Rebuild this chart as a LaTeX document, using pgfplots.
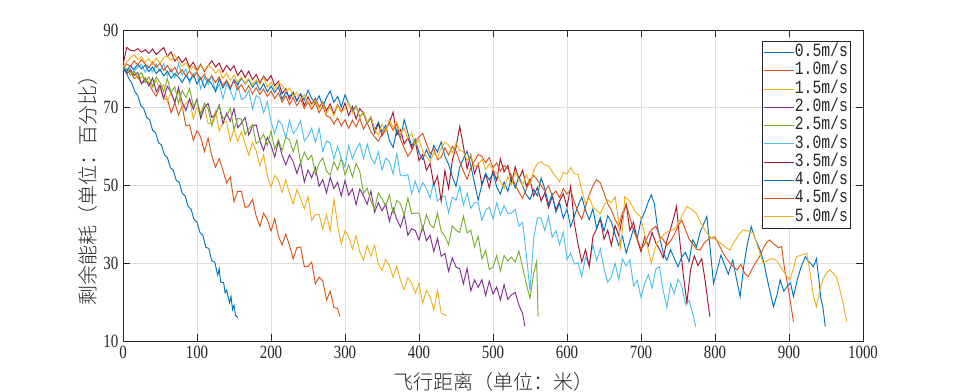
\documentclass[border=0pt]{standalone}
\usepackage{fontspec}
\usepackage{pgfplots}
\pgfplotsset{compat=1.18}
\setmainfont{Liberation Serif}
\newfontfamily\cjk[UprightFont={* Light}]{Noto Sans CJK SC}
\newfontfamily\tickfont[FakeStretch=0.8]{Liberation Serif}
\newfontfamily\legfont[FakeStretch=0.79]{Liberation Mono}
\definecolor{mblue}{RGB}{0,114,189}
\definecolor{morange}{RGB}{217,83,25}
\definecolor{myellow}{RGB}{237,177,32}
\definecolor{mpurple}{RGB}{126,47,142}
\definecolor{mgreen}{RGB}{119,172,48}
\definecolor{mlblue}{RGB}{77,190,238}
\definecolor{mred}{RGB}{162,20,47}
\definecolor{gridgray}{RGB}{222,222,222}
\definecolor{axgray}{RGB}{38,38,38}
\begin{document}
\begin{tikzpicture}
\begin{axis}[
  scale only axis, width=555pt, height=233.25pt,
  xmin=0, xmax=1000, ymin=10, ymax=90,
  xtick={0,100,...,1000}, ytick={10,30,50,70,90},
  grid=major, major grid style={gridgray, line width=0.6pt},
  axis line style={axgray, line width=0.6pt},
  tick style={axgray, line width=0.6pt}, major tick length=5pt,
  tick align=inside, xtick pos=both, ytick pos=both,
  /pgf/number format/assume math mode=true,
  /pgf/number format/1000 sep={},
  tick label style={font=\tickfont\fontsize{14}{14}\selectfont, text=axgray},
  xlabel={\cjk 飞行距离（单位：米）},
  ylabel={\cjk 剩余能耗（单位：百分比）},
  xlabel style={font=\fontsize{15}{15}\selectfont, text=axgray, at={(axis description cs:0.5,-0.132)}, anchor=center},
  ylabel style={font=\fontsize{15}{15}\selectfont, text=axgray, at={(axis description cs:-0.047,0.5)}, anchor=center, rotate=0},
  legend style={at={(1,1)}, anchor=north east, xshift=-9pt, yshift=-8.25pt,
    draw=axgray, line width=0.6pt, inner sep=1.5pt, row sep=0pt,
    font=\legfont\fontsize{14}{14}\selectfont,
    nodes={inner sep=0.5pt, text height=9.5pt, text depth=3.2pt, text=axgray}},
  legend cell align=left,
  legend image code/.code={\draw[#1, line width=0.7pt] (0pt,0pt) -- (22pt,0pt);},
  every axis plot/.append style={line width=0.7pt},
]
% 0.5 m/s
\addplot[mblue] table {
x y
0 81.0
4 79.2
8 77.5
12 76.3
16 74.2
20 73.1
24 70.6
28 69.8
32 67.5
36 66.9
40 64.2
44 63.6
48 61.0
52 60.4
56 57.9
60 57.2
64 54.6
68 53.9
72 51.3
76 50.8
80 48.0
84 47.3
88 44.6
92 43.9
96 41.2
100 40.6
104 37.9
108 37.2
112 34.1
116 33.8
120 30.6
124 30.3
128 26.9
130 28.6
132 25.2
136 25.0
138 22.4
140 23.1
144 19.8
146 21.4
148 18.1
150 19.2
152 16.6
155 16.0
};
\addlegendentry{0.5m/s}
% 1.0 m/s
\addplot[morange] table {
x y
0 80.0
5 79.0
10 79.4
15 77.5
20 78.0
25 76.2
30 76.9
35 76.6
40 74.3
45 73.0
50 75.2
55 72.2
60 72.3
65 68.7
70 71.3
75 68.1
80 70.3
85 65.3
90 65.6
95 61.6
100 64.1
105 62.5
110 58.7
115 62.2
120 57.6
125 54.7
130 56.9
135 53.9
140 50.7
145 52.2
150 45.8
155 48.5
160 48.5
165 44.3
170 44.7
175 46.4
180 42.1
185 39.5
190 42.9
195 41.3
200 38.3
205 41.5
210 37.0
215 34.7
220 37.5
225 34.6
230 31.1
235 34.0
240 34.2
245 29.1
250 29.2
255 30.3
260 24.7
265 26.4
270 25.5
275 20.5
280 22.8
285 18.6
290 18.4
293 16.3
};
\addlegendentry{1.0m/s}
% 1.5 m/s
\addplot[myellow] table {
x y
0 80.5
5 79.9
10 78.6
15 79.1
20 77.4
25 77.8
30 77.9
35 76.0
40 75.3
45 77.0
50 74.6
55 76.0
60 71.6
65 73.9
70 71.5
75 74.4
80 69.6
85 71.1
90 72.1
95 67.1
100 70.2
105 68.0
110 70.3
115 65.9
120 66.1
125 69.2
130 64.0
135 66.1
140 66.5
145 61.4
150 64.4
155 61.3
160 63.9
165 60.8
170 57.8
175 61.1
180 58.9
185 55.0
190 57.9
195 52.6
200 49.6
205 52.6
210 51.4
215 48.2
220 51.5
225 47.9
230 45.3
235 48.9
240 46.7
245 44.0
250 47.2
255 41.0
260 42.5
265 42.5
270 38.8
275 42.5
280 38.3
285 46.5
290 39.9
295 34.9
300 38.4
305 36.8
310 33.6
315 37.1
320 32.9
325 30.8
330 34.5
335 31.8
340 34.6
345 29.9
350 28.1
355 31.0
360 29.3
365 26.4
370 29.3
375 25.6
380 23.2
385 26.3
390 24.9
395 22.3
400 24.8
405 19.7
410 23.1
415 21.4
420 18.0
425 23.0
430 17.2
437 16.5
};
\addlegendentry{1.5m/s}
% 2.0 m/s
\addplot[mpurple] table {
x y
0 80.4
5 78.8
10 79.9
15 78.3
20 79.1
25 76.2
30 77.6
35 75.6
40 77.7
45 74.1
50 75.8
55 72.5
60 75.5
65 73.9
70 71.3
75 75.2
80 71.4
85 69.3
90 72.3
95 69.6
100 72.2
105 67.2
110 70.1
115 71.1
120 67.5
125 68.2
130 70.7
135 65.9
140 68.6
145 66.5
150 69.8
155 64.9
160 66.0
165 67.5
170 63.0
175 65.3
180 65.6
185 61.5
190 59.0
195 62.4
200 60.3
205 57.3
210 61.4
215 57.8
220 55.3
225 57.9
230 56.1
235 53.1
240 56.0
245 50.9
250 54.0
255 52.0
260 54.7
265 49.8
270 51.5
275 48.1
280 52.1
285 49.2
290 50.8
295 47.3
300 51.3
305 47.5
310 49.1
315 45.1
320 49.1
325 47.3
330 45.2
335 48.6
340 43.1
345 45.6
350 43.5
355 45.2
360 40.8
365 44.2
370 41.3
375 39.3
380 42.4
385 37.2
390 38.9
395 38.4
400 36.0
405 39.5
410 35.8
415 37.2
420 33.0
425 36.4
430 31.8
435 32.5
440 27.9
445 31.4
450 29.0
455 28.6
460 24.7
465 28.7
470 22.9
475 25.7
480 23.8
485 25.8
490 21.7
495 25.4
500 22.1
505 23.9
510 20.5
515 24.5
520 20.7
525 21.9
530 22.5
535 19.2
540 17.1
543 13.8
};
\addlegendentry{2.0m/s}
% 2.5 m/s
\addplot[mgreen] table {
x y
0 79.7
5 80.1
10 78.4
15 79.4
20 78.1
25 79.1
30 76.5
35 78.0
40 75.5
45 77.9
50 76.5
55 74.2
60 77.5
65 73.9
70 75.4
75 71.1
80 74.4
85 72.6
90 74.9
95 70.5
100 71.7
105 68.4
110 71.2
115 69.7
120 65.4
125 68.1
130 70.5
135 67.2
140 67.9
145 69.8
150 64.5
155 67.3
160 67.1
165 63.1
170 64.5
175 65.7
180 60.8
185 61.6
190 63.2
195 60.3
200 64.0
205 59.4
210 61.8
215 59.0
220 62.5
225 61.7
230 58.7
235 61.7
240 55.7
245 58.6
250 56.6
255 57.8
260 52.8
265 55.8
270 57.1
275 53.7
280 52.7
285 56.1
290 54.0
295 57.0
300 52.7
305 55.3
310 52.2
315 55.7
320 53.6
325 48.0
330 49.3
335 46.0
340 44.0
345 48.1
350 46.6
355 44.7
360 47.6
365 42.9
370 46.1
375 45.3
380 42.5
385 46.8
390 42.7
395 42.9
400 42.9
405 38.6
410 42.5
415 40.0
420 39.1
425 42.9
430 38.2
435 37.0
440 34.8
445 39.6
450 38.5
455 37.9
460 42.1
465 37.8
470 38.5
475 34.2
480 36.9
485 31.1
490 33.3
495 28.4
500 29.0
505 32.0
510 28.0
515 32.0
520 30.6
525 31.6
530 30.3
535 33.1
540 29.0
545 24.6
550 21.0
555 27.5
559 30.5
561 16.3
};
\addlegendentry{2.5m/s}
% 3.0 m/s
\addplot[mlblue] table {
x y
0 80.6
5 79.6
10 80.9
15 79.4
20 80.4
25 81.2
30 79.1
35 80.7
40 79.2
45 81.3
50 79.3
55 81.3
60 78.3
65 80.0
70 77.7
75 81.3
80 78.4
85 80.0
90 76.3
95 78.6
100 79.2
105 74.8
110 77.9
115 76.0
120 78.3
125 74.0
130 76.1
135 72.3
140 76.1
145 74.5
150 71.9
155 76.1
160 72.1
165 72.6
170 74.5
175 69.6
180 73.2
185 72.4
190 68.7
195 71.6
200 66.4
205 63.3
210 66.8
215 65.6
220 62.2
225 66.8
230 63.4
235 64.5
240 66.7
245 61.4
250 62.6
255 64.7
260 61.1
265 64.7
270 58.8
275 61.5
280 60.9
285 56.8
290 60.1
295 56.9
300 54.7
305 60.3
310 56.9
315 59.2
320 60.9
325 56.9
330 60.7
335 57.2
340 55.6
345 58.7
350 54.0
355 57.0
360 56.2
365 53.0
370 58.2
375 52.5
380 52.5
385 52.8
390 47.8
395 51.1
400 48.2
405 50.8
410 49.2
415 46.8
420 51.2
425 46.0
430 47.0
435 47.3
440 43.0
445 47.0
450 46.2
455 49.8
460 45.0
465 48.0
470 44.1
475 45.6
480 45.5
485 41.0
490 43.6
495 44.4
500 41.4
505 45.5
510 42.4
515 44.8
520 42.8
525 42.9
530 43.9
535 39.5
540 40.6
545 32.3
550 23.0
555 36.4
560 41.7
565 41.6
570 38.4
575 42.0
580 36.7
585 38.4
590 34.8
595 38.0
600 31.0
605 32.6
610 29.8
615 30.1
620 26.6
625 31.6
630 29.5
635 34.7
640 30.8
645 33.7
650 28.6
655 25.1
660 26.5
665 30.0
670 25.8
675 31.1
680 29.3
685 30.9
690 24.1
695 25.6
700 21.2
705 24.8
710 27.1
715 23.6
720 28.5
725 29.1
730 22.9
735 18.6
740 24.7
745 22.2
750 25.9
755 24.2
760 19.5
765 20.4
770 16.9
774 13.7
};
\addlegendentry{3.0m/s}
% 3.5 m/s
\addplot[mred] table {
x y
0 81.0
5 85.5
10 84.8
15 84.6
20 85.2
25 84.3
30 84.9
35 84.0
40 85.1
45 83.7
50 84.6
55 85.5
60 83.2
65 84.4
70 82.0
75 83.1
80 81.6
85 82.8
90 80.4
95 81.7
100 79.6
105 81.2
110 79.3
115 80.8
120 82.1
125 80.5
130 81.5
135 79.2
140 80.9
145 79.6
150 80.8
155 78.3
160 79.7
165 77.8
170 79.4
175 77.2
180 78.6
185 76.4
190 78.1
195 76.9
200 78.3
205 75.7
210 76.8
215 73.6
220 74.9
225 72.1
230 74.0
235 71.8
240 73.5
245 70.6
250 72.8
255 70.9
260 72.4
265 70.1
270 71.5
275 69.2
280 71.0
285 68.4
290 70.8
295 68.9
300 71.2
305 68.0
310 70.3
315 67.1
320 69.8
325 68.5
330 66.0
335 67.4
340 63.5
345 65.9
350 62.8
355 64.6
360 66.1
365 68.9
370 63.0
375 64.4
380 60.7
385 62.3
390 59.6
395 61.2
400 56.4
405 58.0
410 53.9
415 55.7
420 50.1
425 52.4
430 45.9
435 53.8
440 49.2
445 56.5
450 59.8
455 65.2
460 60.1
465 54.3
470 57.9
475 53.1
480 55.6
485 50.2
490 52.9
495 49.4
500 54.0
505 51.3
510 56.9
515 53.5
520 55.2
525 50.6
530 54.8
535 51.7
540 53.9
545 49.8
550 51.6
555 47.3
560 49.5
565 46.0
570 48.1
575 44.3
580 47.2
585 43.8
590 46.0
595 47.9
600 44.5
605 49.8
610 40.2
615 34.8
620 30.3
625 33.5
630 29.2
635 36.8
640 38.9
645 41.4
650 36.2
655 38.5
660 34.6
665 39.7
670 37.1
675 42.0
680 45.2
685 38.4
690 40.6
695 35.9
700 33.0
705 36.8
710 34.5
715 37.9
720 35.2
725 33.6
730 31.4
735 35.8
740 38.9
745 42.3
748 44.6
752 36.5
757 27.3
762 19.8
767 28.4
772 31.9
777 29.4
782 31.2
787 25.1
793 16.3
};
\addlegendentry{3.5m/s}
% 4.0 m/s
\addplot[mblue] table {
x y
0 80.2
5 79.4
10 80.8
15 79.9
20 81.2
25 80.0
30 80.9
35 79.3
40 80.5
45 78.8
50 79.9
55 78.2
60 79.4
65 77.6
70 78.8
75 77.9
80 76.5
85 78.3
90 77.0
95 78.6
100 76.1
105 77.8
110 75.2
115 77.3
120 76.0
125 74.3
130 77.4
135 75.1
140 76.9
145 74.8
150 77.3
155 75.9
160 77.6
165 76.1
170 77.2
175 75.3
180 76.6
185 74.5
190 76.2
195 74.1
200 75.6
205 73.9
210 75.4
215 72.2
220 74.0
225 72.9
230 73.8
235 71.7
240 73.6
245 72.0
250 74.5
255 72.4
260 71.2
265 73.1
270 70.3
275 72.6
280 74.3
285 71.4
290 72.9
295 70.2
300 73.3
305 71.0
310 69.1
315 70.4
320 67.6
325 68.9
330 66.1
335 67.7
340 64.2
345 66.3
350 63.8
355 65.5
360 61.6
365 59.8
370 64.3
375 62.1
380 66.9
385 63.5
390 60.2
395 61.9
400 58.4
405 56.7
410 59.2
415 57.1
420 60.3
425 58.6
430 61.2
435 57.5
440 55.4
445 52.3
450 49.8
455 54.7
460 56.9
465 58.8
470 55.1
475 50.6
480 46.2
485 50.3
490 53.1
495 51.4
500 53.2
505 49.6
510 47.8
515 50.9
520 48.5
525 52.1
530 49.4
535 52.3
540 50.0
545 47.6
550 46.4
555 49.0
560 47.3
565 51.9
570 49.2
575 45.1
580 47.8
585 43.1
590 45.5
595 41.6
600 43.9
605 39.4
610 42.2
615 44.8
620 47.0
625 43.6
630 41.2
635 44.0
640 39.0
645 41.7
650 38.3
655 42.2
660 40.6
665 37.4
670 34.6
675 36.9
680 32.6
685 35.8
690 38.9
695 36.4
700 41.1
705 43.2
710 45.9
714 47.6
718 45.3
722 39.6
726 36.0
730 32.7
735 30.8
740 33.5
745 31.2
750 29.1
755 31.6
760 32.8
765 30.4
770 36.0
775 34.2
780 38.1
785 40.3
789 42.0
793 34.5
798 24.8
803 28.3
808 32.1
813 29.6
818 27.2
824 30.8
829 26.0
834 21.4
839 29.5
844 35.2
849 39.4
853 37.0
857 35.1
861 33.4
866 30.2
870 26.4
875 22.1
879 18.8
884 22.0
888 25.7
893 22.8
897 23.9
902 25.0
906 21.4
911 25.6
916 28.9
922 31.7
926 30.6
930 29.8
933 29.1
937 31.2
940 26.5
943 21.0
946 18.5
949 13.7
};
\addlegendentry{4.0m/s}
% 4.5 m/s
\addplot[morange] table {
x y
0 80.0
5 81.3
10 80.6
15 82.1
20 81.0
25 82.4
30 81.2
35 80.3
40 81.8
45 80.4
50 81.5
55 79.6
60 80.9
65 79.2
70 80.4
75 78.6
80 79.8
85 78.1
90 79.5
95 77.9
100 79.0
105 77.3
110 78.6
115 76.8
120 78.2
125 76.5
130 77.9
135 75.7
140 77.1
145 75.2
150 76.8
155 74.6
160 76.0
165 74.1
170 75.7
175 73.6
180 75.2
185 73.4
190 74.8
195 72.9
200 74.3
205 72.4
210 73.8
215 71.5
220 73.1
225 70.8
230 72.6
235 70.5
240 72.2
245 69.8
250 71.5
255 69.6
260 71.3
265 68.7
270 70.4
275 67.9
280 67.5
285 65.8
290 67.4
295 65.3
300 66.9
305 64.7
310 66.8
315 65.1
320 67.3
325 64.5
330 66.2
335 63.8
340 62.5
345 61.4
350 63.1
355 64.4
360 66.0
365 64.2
370 65.8
375 61.9
380 59.6
385 57.5
390 58.9
395 61.3
400 62.5
405 63.4
410 60.8
415 58.2
420 59.5
425 56.6
430 57.3
435 59.7
440 57.8
445 60.1
450 58.9
455 56.2
460 53.7
465 51.6
470 54.5
475 56.3
480 58.0
485 57.5
490 55.9
495 57.2
500 54.6
505 55.8
510 53.7
515 55.1
520 54.4
525 52.5
530 50.2
535 48.3
540 46.7
545 49.0
550 51.3
555 52.6
560 51.4
565 50.0
570 48.6
575 49.9
580 47.5
585 48.6
590 46.9
595 49.2
600 47.8
605 48.9
610 45.6
615 43.2
620 41.3
625 44.5
630 47.6
635 49.9
640 51.5
645 50.7
650 48.1
655 45.3
660 43.7
665 41.2
670 39.6
675 43.0
680 45.1
685 41.8
690 38.4
695 36.2
700 33.6
705 35.0
710 37.3
715 38.8
720 39.5
725 37.0
730 36.1
735 34.5
740 35.8
745 37.4
750 39.6
755 41.1
760 38.7
765 36.2
770 35.0
775 33.6
780 33.4
785 35.1
790 36.0
795 36.6
800 36.8
805 34.9
810 33.0
815 31.3
820 30.1
825 29.0
830 28.3
835 29.7
840 27.4
845 26.6
850 28.5
855 30.2
860 31.6
865 33.8
870 35.4
874 36.0
878 35.2
882 34.6
886 34.0
890 34.3
894 28.5
897 25.7
901 21.2
906 15.0
};
\addlegendentry{4.5m/s}
% 5.0 m/s
\addplot[myellow] table {
x y
0 80.5
5 81.8
10 82.9
15 83.6
20 82.4
25 83.1
30 81.7
35 82.6
40 81.2
45 82.8
50 81.5
55 82.9
60 83.4
65 82.1
70 83.6
75 81.9
80 80.7
85 81.5
90 79.8
95 80.6
100 79.3
105 80.9
110 79.6
115 81.0
120 80.2
125 78.9
130 79.8
135 77.6
140 78.9
145 77.0
150 78.4
155 76.6
160 77.9
165 76.2
170 77.5
175 75.9
180 77.2
185 76.0
190 77.8
195 75.3
200 76.6
205 74.8
210 76.4
215 75.8
220 74.2
225 75.1
230 72.9
235 74.0
240 72.1
245 73.3
250 71.5
255 70.7
260 72.0
265 69.8
270 71.3
275 68.5
280 70.2
285 67.9
290 70.6
295 68.8
300 69.9
305 71.2
310 68.6
315 70.1
320 67.3
325 69.0
330 66.2
335 67.8
340 64.5
345 63.0
350 65.7
355 63.8
360 67.0
365 64.9
370 66.4
375 63.2
380 64.7
385 62.0
390 63.5
395 60.3
400 61.8
405 58.9
410 57.4
415 56.1
420 58.5
425 57.0
430 59.6
435 61.2
440 60.4
445 58.3
450 60.9
455 59.1
460 58.7
465 56.4
470 57.8
475 54.9
480 55.3
485 56.8
490 54.1
495 55.6
500 54.0
505 53.2
510 51.0
515 49.3
520 52.2
525 50.1
530 53.6
535 51.4
540 50.1
545 52.8
550 50.1
555 53.9
560 55.7
565 56.1
570 55.3
575 55.0
580 53.6
585 52.2
590 51.0
595 53.4
600 52.9
605 54.6
610 53.0
615 52.9
620 48.7
625 45.3
630 46.8
635 44.5
640 43.6
645 42.8
650 44.9
655 46.3
660 45.6
665 47.1
670 40.5
672 33.4
676 41.0
678 47.1
683 46.2
688 44.8
693 43.1
699 42.0
704 38.3
709 34.1
714 30.0
718 33.2
722 35.4
726 36.0
731 37.5
737 38.2
744 38.6
750 40.1
756 42.5
762 44.6
768 43.9
775 42.8
781 40.3
789 37.7
795 36.6
802 36.0
808 35.1
814 34.2
820 33.4
826 35.5
832 37.3
838 38.6
845 38.3
852 37.7
858 34.1
865 30.0
870 30.6
876 31.2
883 30.8
889 28.9
895 27.2
901 25.7
906 28.6
910 31.7
917 32.1
924 32.6
929 27.0
933 21.5
937 18.8
941 22.6
946 25.9
951 27.6
955 28.3
960 27.4
964 26.5
968 23.8
973 19.7
978 15.0
};
\addlegendentry{5.0m/s}
\end{axis}
\pgfresetboundingbox
\path ([shift={(-92.25pt,-38.25pt)}]current axis.south west) rectangle ([shift={(69pt,22.5pt)}]current axis.north east);
\end{tikzpicture}
\end{document}
